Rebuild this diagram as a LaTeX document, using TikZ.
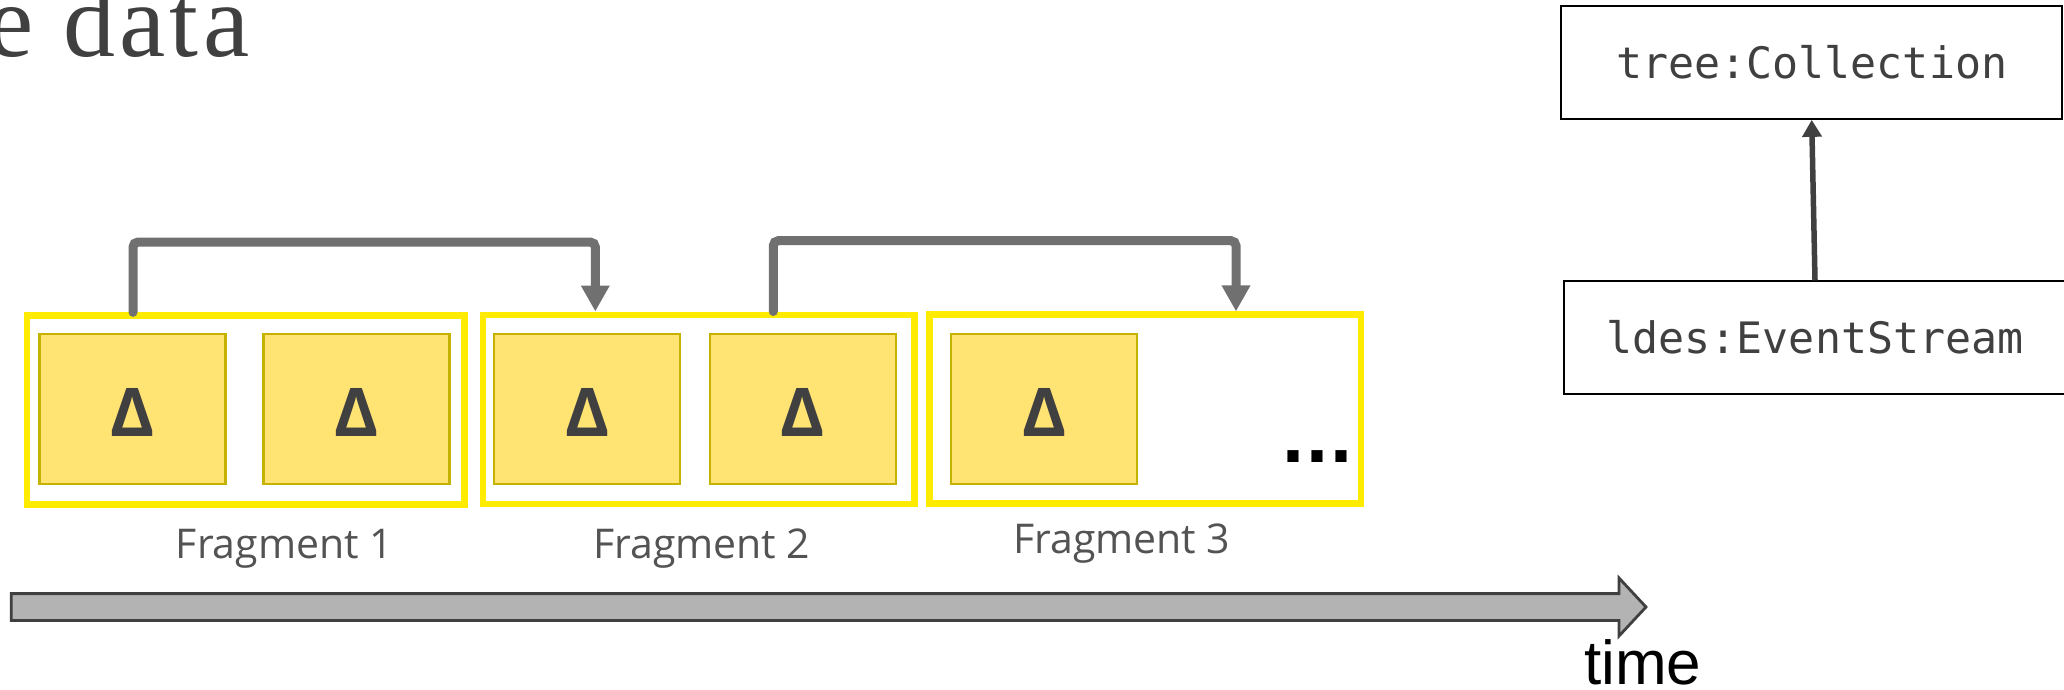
\documentclass[tikz,border=0pt]{standalone}
\usepackage{fontspec}
\setmainfont{Liberation Serif}
\newfontfamily\fragfont{Open Sans}
\newfontfamily\monofont{DejaVu Sans Mono}
\newfontfamily\deltafont{Open Sans}
\newfontfamily\dotfont{DejaVu Sans}
\newfontfamily\timefont{Liberation Sans}
\newfontfamily\titlefont[LetterSpace=4]{Liberation Serif}
\usetikzlibrary{arrows.meta,calc}

\definecolor{fragyellow}{HTML}{FFEB00}
\definecolor{deltafill}{HTML}{FFE473}
\definecolor{deltaedge}{HTML}{C4B200}
\definecolor{linkgray}{HTML}{707070}
\definecolor{darktext}{HTML}{404040}
\definecolor{arrowfill}{HTML}{B3B3B3}

\begin{document}
\begin{tikzpicture}[x=1pt,y=-1pt,
  fragbox/.style={draw=fragyellow, line width=6.5pt, inner sep=0pt, rectangle, minimum height=189pt},
  deltabox/.style={draw=deltaedge, fill=deltafill, line width=2.2pt, minimum width=186pt, minimum height=150pt, inner sep=0pt, text height=55pt, text depth=0pt, font=\deltafont\bfseries\fontsize{67}{67}\selectfont, text=darktext},
  link/.style={draw=linkgray, line width=9pt, rounded corners=5pt, line cap=round, -{Triangle[width=27pt,length=26pt]}},
  classbox/.style={draw=black, line width=2pt, inner sep=0pt, minimum height=112.5pt, font=\monofont\fontsize{43.3}{50}\selectfont, text=darktext},
  inh/.style={draw=darktext, line width=5.5pt, -{Triangle[width=19pt,length=17pt]}},
  fraglabel/.style={anchor=base west, inner sep=0pt, font=\fragfont\fontsize{41}{42}\selectfont, text=darktext!90},
  timearrow/.style={draw=darktext, fill=arrowfill, line width=2.8pt, line join=miter}
]
\useasboundingbox (0,0) rectangle (2064,689);

% title fragment
\node[anchor=base west, inner sep=0pt, font=\titlefont\fontsize{104}{104}\selectfont, text=darktext] (title) at (-13,56.7) {e data};

% fragments
\node[fragbox, minimum width=437.5pt] (f1) at (245.75,410.1) {};
\node[fragbox, minimum width=431.5pt] (f2) at (698.75,409.25) {};
\node[fragbox, minimum width=431.7pt] (f3) at (1145.15,409.15) {};

% deltas
\node[deltabox] (d1) at (132.5,409.2) {Δ};
\node[deltabox] (d2) at (356.5,409.2) {Δ};
\node[deltabox] (d3) at (587.3,409.2) {Δ};
\node[deltabox] (d4) at (802.7,409.2) {Δ};
\node[deltabox] (d5) at (1044.3,409.2) {Δ};

\node[anchor=base west, inner sep=0pt, font=\dotfont\bfseries\fontsize{63}{63}\selectfont, text=black] (dots) at (1281,462.7) {...};

% links between fragments
\coordinate (t1a) at (133,242);
\coordinate (t1b) at (595.3,242);
\coordinate (t2a) at (773.3,240.7);
\coordinate (t2b) at (1236,240.7);
\draw[link] (t1a |- f1.north) -- (t1a) -- (t1b) -- (t1b |- f2.north);
\draw[link] (t2a |- f2.north) -- (t2a) -- (t2b) -- (t2b |- f3.north);

% fragment labels
\node[fraglabel] (l1) at (175.7,558.3) {Fragment 1};
\node[fraglabel] (l2) at (593,558.3) {Fragment 2};
\node[fraglabel] (l3) at (1013,553.3) {Fragment 3};

% time arrow
\draw[timearrow] (11.3,593.6) -- (1619,593.6) -- (1619,578) -- (1646,607) -- (1619,636) -- (1619,620.4) -- (11.3,620.4) -- cycle;
\node[anchor=base west, inner sep=0pt, font=\timefont\fontsize{62}{62}\selectfont, text=black] (timelbl) at (1584,684) {time};

% class boxes
\node[classbox, minimum width=501pt] (tc) at (1811.7,62.6) {tree:Collection};
\node[classbox, minimum width=503pt] (es) at (1815,337.7) {ldes:EventStream};
\draw[inh] (es.north) -- (tc.south);
\end{tikzpicture}
\end{document}
